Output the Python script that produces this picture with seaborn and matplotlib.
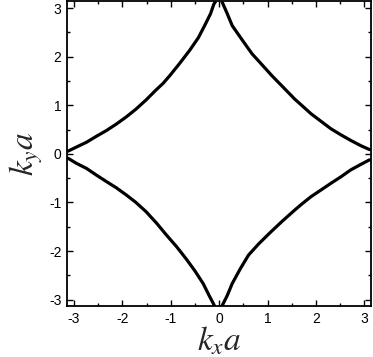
import numpy as np
import pandas as pd
import matplotlib
matplotlib.use("Agg")
import matplotlib.pyplot as plt
from matplotlib.ticker import MultipleLocator
import seaborn as sns

PI = np.pi

# digitized branches of the contour (kx*a, ky*a)
tl_x = [-PI, -3.12, -2.95, -2.74, -2.54, -2.33, -2.13, -1.92, -1.72, -1.51,
        -1.31, -1.16, -1.02, -0.81, -0.61, -0.43, -0.30, -0.18, -0.11, -0.07]
tl_y = [0.05, 0.058, 0.14, 0.24, 0.36, 0.48, 0.61, 0.76, 0.92, 1.11,
        1.31, 1.45, 1.61, 1.87, 2.13, 2.39, 2.64, 2.88, 3.08, PI]

tr_x = [0.055, 0.065, 0.17, 0.27, 0.48, 0.68, 0.89, 1.09, 1.33, 1.57,
        1.70, 1.90, 2.11, 2.31, 2.52, 2.72, 2.93, 3.10, PI]
tr_y = [PI, 3.12, 2.88, 2.64, 2.34, 2.06, 1.83, 1.61, 1.365, 1.12,
        1.005, 0.825, 0.667, 0.517, 0.39, 0.277, 0.168, 0.092, 0.085]

bl_x = [-PI, -3.12, -2.95, -2.74, -2.54, -2.33, -2.13, -1.92, -1.72, -1.51,
        -1.29, -1.09, -0.88, -0.675, -0.50, -0.33, -0.21, -0.11, -0.09]
bl_y = [-0.09, -0.092, -0.195, -0.30, -0.435, -0.57, -0.695, -0.845, -1.00, -1.19,
        -1.43, -1.67, -1.91, -2.17, -2.41, -2.67, -2.91, -3.10, -PI]

br_x = [0.06, 0.065, 0.17, 0.27, 0.44, 0.61, 0.82, 1.06, 1.30, 1.57,
        1.70, 1.90, 2.11, 2.31, 2.52, 2.72, 2.93, 3.10, PI]
br_y = [-PI, -3.12, -2.91, -2.67, -2.36, -2.08, -1.85, -1.615, -1.39, -1.15,
        -1.04, -0.88, -0.74, -0.606, -0.47, -0.33, -0.216, -0.127, -0.12]

ticks = [-3, -2, -1, 0, 1, 2, 3]
tick_labels = ["-3", "-2", "-1", "0", "1", "2", "3"]

frames = []
for name, xs, ys in [("tl", tl_x, tl_y), ("tr", tr_x, tr_y),
                     ("bl", bl_x, bl_y), ("br", br_x, br_y)]:
    frames.append(pd.DataFrame({"kx": xs, "ky": ys, "branch": name}))
df = pd.concat(frames, ignore_index=True)

sns.set_style("ticks")
plt.rcParams["font.family"] = ["Liberation Sans", "DejaVu Sans"]
plt.rcParams["mathtext.fontset"] = "stix"

fig = plt.figure(figsize=(3.73, 3.57), dpi=100)
ax = fig.add_axes([0.180, 0.1415, 0.815, 0.855])

sns.lineplot(data=df, x="kx", y="ky", units="branch", estimator=None,
             sort=False, color="black", linewidth=2.3, ax=ax, legend=False)
for line in ax.lines:
    line.set_solid_joinstyle("round")
    line.set_solid_capstyle("butt")

ax.set_xlim(-PI, PI)
ax.set_ylim(-PI, PI)
ax.set_xticks(ticks)
ax.set_xticklabels(tick_labels)
ax.set_yticks(ticks)
ax.set_yticklabels(tick_labels)
ax.xaxis.set_minor_locator(MultipleLocator(0.5))
ax.yaxis.set_minor_locator(MultipleLocator(0.5))
ax.tick_params(which="both", direction="in", top=True, right=True,
               width=1.0, colors="black", labelsize=10, pad=4)
ax.tick_params(which="major", length=4)
ax.tick_params(which="minor", length=2.5)
for s in ax.spines.values():
    s.set_linewidth(1.3)
    s.set_color("black")

ax.set_xlabel(r"$k_{x}a$", fontsize=24, labelpad=-1)
ax.set_ylabel(r"$k_{y}a$", fontsize=24, labelpad=3)

fig.savefig("out.png", dpi=100)
